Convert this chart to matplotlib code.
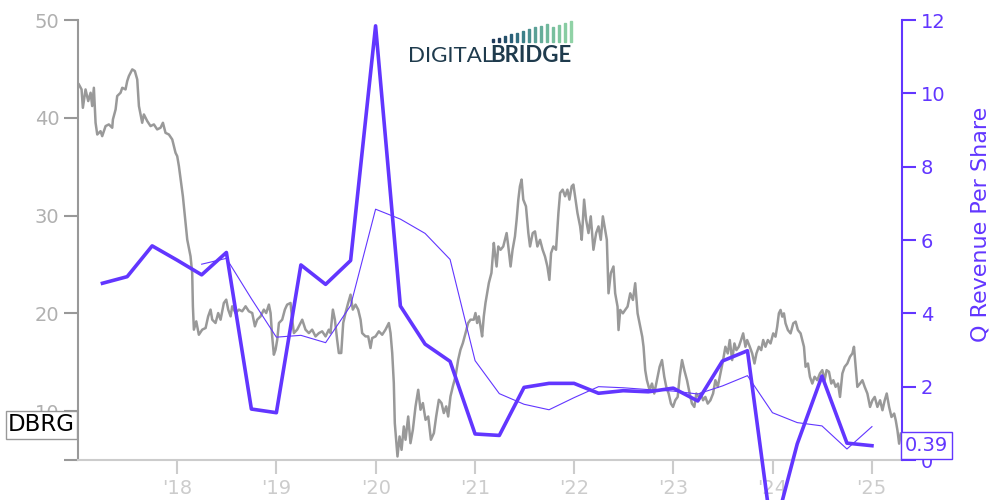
import matplotlib
matplotlib.use("Agg")
import matplotlib.pyplot as plt
import matplotlib.transforms as mtransforms
from matplotlib.patches import Rectangle
import pandas as pd

# DBRG daily-ish close (decimal year, price)
price_t = [2017.009, 2017.036, 2017.049, 2017.076, 2017.103, 2017.127, 2017.143, 2017.160, 2017.177, 2017.194,
           2017.227, 2017.244, 2017.278, 2017.311, 2017.345, 2017.352, 2017.379, 2017.395, 2017.429, 2017.446,
           2017.479, 2017.496, 2017.513, 2017.530, 2017.547, 2017.573, 2017.597, 2017.614, 2017.647, 2017.664,
           2017.698, 2017.731, 2017.765, 2017.798, 2017.832, 2017.856, 2017.882, 2017.916, 2017.950, 2017.966,
           2017.983, 2018.000, 2018.017, 2018.044, 2018.057, 2018.077, 2018.101, 2018.118, 2018.134, 2018.151,
           2018.158, 2018.168, 2018.192, 2018.218, 2018.252, 2018.286, 2018.312, 2018.336, 2018.353, 2018.386,
           2018.413, 2018.437, 2018.470, 2018.494, 2018.514, 2018.538, 2018.554, 2018.588, 2018.622, 2018.655,
           2018.689, 2018.722, 2018.756, 2018.783, 2018.806, 2018.840, 2018.873, 2018.897, 2018.924, 2018.941,
           2018.957, 2018.974, 2018.991, 2019.008, 2019.025, 2019.058, 2019.085, 2019.108, 2019.142, 2019.159,
           2019.176, 2019.209, 2019.243, 2019.260, 2019.293, 2019.327, 2019.360, 2019.394, 2019.428, 2019.461,
           2019.495, 2019.528, 2019.545, 2019.569, 2019.589, 2019.612, 2019.629, 2019.653, 2019.673, 2019.696,
           2019.723, 2019.747, 2019.770, 2019.797, 2019.824, 2019.848, 2019.864, 2019.898, 2019.925, 2019.948,
           2019.965, 2019.999, 2020.032, 2020.066, 2020.099, 2020.133, 2020.150, 2020.167, 2020.183, 2020.193,
           2020.207, 2020.220, 2020.241, 2020.261, 2020.284, 2020.301, 2020.328, 2020.351, 2020.375, 2020.402,
           2020.429, 2020.452, 2020.476, 2020.503, 2020.530, 2020.557, 2020.587, 2020.610, 2020.637, 2020.664,
           2020.687, 2020.711, 2020.731, 2020.754, 2020.778, 2020.805, 2020.832, 2020.855, 2020.879, 2020.906,
           2020.932, 2020.956, 2020.989, 2021.006, 2021.023, 2021.040, 2021.057, 2021.073, 2021.090, 2021.107,
           2021.124, 2021.141, 2021.167, 2021.191, 2021.202, 2021.219, 2021.236, 2021.259, 2021.286, 2021.303,
           2021.320, 2021.337, 2021.360, 2021.380, 2021.404, 2021.421, 2021.438, 2021.454, 2021.471, 2021.488,
           2021.515, 2021.539, 2021.556, 2021.583, 2021.606, 2021.630, 2021.657, 2021.683, 2021.707, 2021.731,
           2021.751, 2021.768, 2021.791, 2021.818, 2021.842, 2021.859, 2021.885, 2021.909, 2021.933, 2021.953,
           2021.976, 2021.993, 2022.010, 2022.034, 2022.061, 2022.077, 2022.101, 2022.121, 2022.145, 2022.168,
           2022.195, 2022.222, 2022.246, 2022.269, 2022.290, 2022.313, 2022.330, 2022.347, 2022.370, 2022.397,
           2022.414, 2022.438, 2022.448, 2022.465, 2022.492, 2022.515, 2022.539, 2022.566, 2022.593, 2022.616,
           2022.640, 2022.667, 2022.687, 2022.700, 2022.717, 2022.734, 2022.761, 2022.785, 2022.808, 2022.835,
           2022.862, 2022.886, 2022.909, 2022.929, 2022.953, 2022.976, 2022.997, 2023.020, 2023.044, 2023.064,
           2023.088, 2023.111, 2023.138, 2023.165, 2023.188, 2023.212, 2023.232, 2023.256, 2023.279, 2023.300,
           2023.323, 2023.347, 2023.374, 2023.401, 2023.424, 2023.448, 2023.475, 2023.502, 2023.525, 2023.549,
           2023.569, 2023.593, 2023.616, 2023.636, 2023.660, 2023.683, 2023.704, 2023.727, 2023.744, 2023.771,
           2023.795, 2023.818, 2023.838, 2023.862, 2023.886, 2023.906, 2023.929, 2023.953, 2023.980, 2024.007,
           2024.030, 2024.047, 2024.064, 2024.081, 2024.098, 2024.115, 2024.131, 2024.155, 2024.182, 2024.209,
           2024.233, 2024.256, 2024.283, 2024.300, 2024.317, 2024.333, 2024.357, 2024.377, 2024.401, 2024.424,
           2024.451, 2024.478, 2024.502, 2024.525, 2024.545, 2024.569, 2024.592, 2024.613, 2024.636, 2024.660,
           2024.680, 2024.704, 2024.727, 2024.754, 2024.781, 2024.805, 2024.821, 2024.838, 2024.855, 2024.882,
           2024.906, 2024.929, 2024.956, 2024.983, 2025.007, 2025.030, 2025.057, 2025.084, 2025.108, 2025.131,
           2025.151, 2025.175, 2025.199, 2025.226, 2025.242, 2025.259, 2025.276, 2025.293]
price_v = [43.41, 42.90, 41.02, 42.90, 41.71, 42.56, 41.20, 43.07, 39.49, 38.29,
           38.63, 38.12, 39.15, 39.32, 38.98, 39.83, 40.85, 42.22, 42.56, 43.07,
           42.90, 43.75, 44.27, 44.61, 44.95, 44.78, 43.92, 41.20, 39.49, 40.34,
           39.66, 39.15, 39.32, 38.81, 38.98, 39.49, 38.46, 38.29, 37.78, 37.10,
           36.42, 36.07, 35.05, 33.00, 31.98, 29.93, 27.54, 26.69, 25.84, 24.13,
           20.72, 18.33, 19.18, 17.81, 18.33, 18.50, 19.69, 20.38, 19.35, 19.01,
           20.03, 19.35, 21.06, 21.40, 20.38, 19.69, 20.72, 20.03, 20.38, 20.21,
           20.72, 20.21, 20.03, 18.67, 19.35, 19.69, 20.38, 20.03, 20.89, 20.03,
           17.64, 15.77, 16.28, 17.30, 19.01, 19.35, 20.38, 20.89, 21.06, 19.35,
           17.98, 18.33, 19.01, 19.35, 18.33, 17.98, 18.33, 17.64, 17.98, 18.16,
           17.64, 18.33, 17.98, 20.38, 19.35, 17.30, 15.94, 15.94, 19.01, 20.03,
           21.06, 21.91, 20.38, 20.89, 20.38, 19.35, 17.98, 17.64, 17.64, 16.45,
           17.47, 17.64, 18.16, 17.81, 18.33, 19.01, 17.98, 15.94, 12.87, 8.77,
           7.07, 5.36, 7.41, 6.04, 8.43, 7.07, 9.45, 6.72, 8.09, 10.48,
           12.18, 10.14, 10.82, 9.11, 9.45, 7.07, 7.75, 9.45, 11.16, 10.82,
           9.80, 10.48, 9.45, 11.50, 12.53, 13.55, 15.26, 16.28, 16.96, 17.98,
           19.01, 19.35, 19.35, 20.03, 19.01, 19.69, 18.67, 17.64, 19.69, 21.06,
           22.08, 23.11, 24.13, 27.20, 26.16, 24.79, 26.84, 26.50, 26.84, 27.52,
           28.21, 26.84, 24.79, 26.50, 27.87, 29.58, 31.63, 32.99, 33.68, 31.63,
           30.94, 28.21, 26.84, 28.21, 28.38, 26.84, 27.52, 26.50, 25.81, 24.79,
           23.42, 26.16, 26.84, 26.50, 30.26, 32.31, 32.65, 31.97, 32.65, 31.63,
           32.99, 33.17, 31.97, 30.26, 28.89, 27.52, 31.63, 29.58, 28.21, 29.92,
           26.50, 28.21, 28.89, 27.52, 29.92, 28.55, 27.52, 22.05, 24.11, 24.79,
           22.05, 20.69, 18.29, 20.35, 20.00, 20.35, 20.69, 22.05, 21.37, 23.08,
           20.00, 18.63, 17.61, 16.58, 14.19, 13.16, 12.14, 12.82, 11.80, 13.16,
           14.53, 15.22, 13.51, 12.48, 11.80, 10.77, 10.43, 11.11, 11.45, 13.51,
           15.22, 14.19, 13.16, 11.80, 10.77, 10.43, 11.80, 11.45, 11.80, 11.11,
           11.45, 10.77, 11.11, 11.80, 13.16, 12.48, 13.85, 15.22, 16.58, 15.90,
           17.27, 15.22, 16.92, 16.24, 16.58, 17.27, 17.95, 16.58, 17.27, 16.58,
           15.90, 14.87, 15.90, 16.58, 16.24, 17.27, 16.58, 17.27, 16.92, 17.95,
           17.61, 18.63, 20.00, 20.35, 19.66, 20.00, 18.98, 18.29, 17.95, 18.98,
           19.15, 18.29, 17.95, 17.27, 16.58, 14.53, 14.87, 13.51, 12.82, 13.51,
           13.16, 13.85, 14.19, 13.16, 14.19, 14.02, 12.82, 13.16, 12.48, 12.82,
           11.45, 13.85, 14.53, 14.87, 15.56, 15.90, 16.58, 14.53, 12.48, 12.82,
           13.16, 12.48, 11.80, 10.43, 11.11, 11.45, 10.43, 11.11, 10.09, 11.11,
           11.80, 10.43, 9.40, 9.75, 9.06, 8.04, 6.67, 7.70]

# quarterly revenue per share, 2017Q1 .. 2024Q4
quarters = pd.period_range("2017Q1", "2024Q4", freq="Q")
rev_q = [4.82, 5.00, 5.84, 5.45, 5.05, 5.66, 1.39, 1.29,
         5.32, 4.79, 5.44, 11.84, 4.20, 3.16, 2.69, 0.71,
         0.67, 1.98, 2.09, 2.09, 1.82, 1.89, 1.86, 1.96,
         1.61, 2.70, 2.98, -2.13, 0.44, 2.29, 0.46, 0.39]
# 4-quarter average line, starts 2018Q1
rev_avg = [5.34, 5.50, 4.40, 3.35, 3.40, 3.20, 4.21, 6.84,
           6.57, 6.18, 5.47, 2.71, 1.81, 1.52, 1.37, 1.70,
           2.00, 1.97, 1.92, 1.88, 1.80, 2.02, 2.30, 1.29,
           1.02, 0.93, 0.30, 0.91]

year_ticks = [2018, 2019, 2020, 2021, 2022, 2023, 2024, 2025]
year_labels = ["'18", "'19", "'20", "'21", "'22", "'23", "'24", "'25"]

purple = "#6236ff"
gray_line = "#999999"
light = "#b0b0b0"

q_t = [p.end_time.year + (p.end_time.dayofyear) / 365.25 for p in quarters]

fig = plt.figure(figsize=(10, 5), dpi=100)
ax = fig.add_axes([0.078, 0.08, 0.824, 0.88])
ax2 = ax.twinx()

ax.plot(price_t, price_v, color=gray_line, lw=1.8)
ax.set_xlim(2017.0, 2025.305)
ax.set_ylim(5, 50)
ax.set_yticks([5, 10, 20, 30, 40, 50])
ax.set_yticklabels(["", "10", "20", "30", "40", "50"])
ax.set_xticks(year_ticks)
ax.set_xticklabels(year_labels)
ax.tick_params(axis="y", colors=gray_line, labelcolor=light, labelsize=14, length=10, width=1.5)
ax.tick_params(axis="x", colors="#cccccc", labelcolor="#cccccc", labelsize=14, length=10, width=1.5)
ax.spines["top"].set_visible(False)
ax.spines["right"].set_visible(False)
ax.spines["left"].set_color(gray_line)
ax.spines["left"].set_linewidth(1.5)
ax.spines["bottom"].set_color("#cccccc")
ax.spines["bottom"].set_linewidth(1.5)

ax2.plot(q_t, rev_q, color=purple, lw=2.6, clip_on=False)
ax2.plot(q_t[4:], rev_avg, color=purple, lw=0.8)
ax2.set_ylim(0, 12)
ax2.set_yticks([0, 2, 4, 6, 8, 10, 12])
ax2.tick_params(axis="y", colors=purple, labelcolor=purple, labelsize=14, length=10, width=1.5)
ax2.set_ylabel("Q Revenue Per Share", color=purple, fontsize=16)
ax2.yaxis.set_label_coords(1.083, 0.535)
for s in ["top", "left", "bottom"]:
    ax2.spines[s].set_visible(False)
ax2.spines["right"].set_color(purple)
ax2.spines["right"].set_linewidth(1.5)

# last value labels
ax2.text(1.003, rev_q[-1], "0.39", transform=mtransforms.blended_transform_factory(ax2.transAxes, ax2.transData),
         color=purple, fontsize=14, va="center", ha="left",
         bbox=dict(boxstyle="square,pad=0.2", fc="white", ec=purple, lw=1))
ax.text(-0.004, 8.6, "DBRG", transform=mtransforms.blended_transform_factory(ax.transAxes, ax.transData),
        color="black", fontsize=16.5, va="center", ha="right", zorder=10,
        bbox=dict(boxstyle="square,pad=0.1", fc="white", ec=gray_line, lw=1))

# logo
fig.text(0.408, 0.876, "DIGITAL", fontsize=16, color="#1f3b4d", family="Lato", va="baseline")
fig.text(0.4905, 0.876, "BRIDGE", fontsize=16, color="#1f3b4d", family="Lato", fontweight="bold", va="baseline")
bar_x = [0.492, 0.498, 0.504, 0.510, 0.516, 0.522, 0.528, 0.534, 0.540, 0.546, 0.552, 0.558, 0.564, 0.570]
bar_h = [0.006, 0.008, 0.011, 0.014, 0.017, 0.020, 0.024, 0.028, 0.031, 0.034, 0.028, 0.032, 0.036, 0.040]
bar_c = ["#1f3b5a", "#1f3b5a", "#24506a", "#2a5f78", "#336f80", "#3b8088", "#4a9090",
         "#5aa096", "#66ad9a", "#70b89c", "#78bf9e", "#80c6a0", "#88cca2", "#90d2a6"]
for bx, bh, bc in zip(bar_x, bar_h, bar_c):
    fig.patches.append(Rectangle((bx, 0.917), 0.0018, bh, transform=fig.transFigure, color=bc, figure=fig))

fig.savefig("out.png", dpi=100)
